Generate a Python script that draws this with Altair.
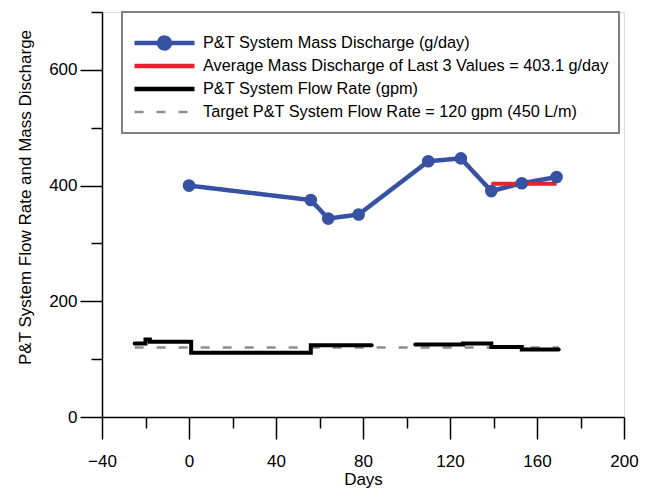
import altair as alt
import pandas as pd

# ---- data ----
mass_days = [0, 56, 64, 78, 110, 125, 139, 153, 169]
mass_vals = [400, 375, 343, 350, 442, 447, 390.5, 404, 414.8]

avg_days = [139, 169]
avg_vals = [403.1, 403.1]

flow1_days = [-25, -20, -18, 1, 56, 84]
flow1_vals = [127, 134, 130, 111, 124, 124]
flow2_days = [104, 126, 139, 153, 170]
flow2_vals = [125.5, 127, 121, 116.5, 116.5]

target_days = [-25, 170]
target_vals = [120, 120]

series = [
    "P&T System Mass Discharge (g/day)",
    "Average Mass Discharge of Last 3 Values = 403.1 g/day",
    "P&T System Flow Rate (gpm)",
    "Target P&T System Flow Rate = 120 gpm (450 L/m)",
]
colors = ["#3752a3", "#e8222c", "#000000", "#8c8c8c"]
dashes = [[1, 0], [1, 0], [1, 0], [9, 13]]

x_ticks = list(range(-40, 201, 20))
y_ticks = list(range(0, 701, 100))

FONT = "Liberation Sans"

mass_df = pd.DataFrame({"day": mass_days, "value": mass_vals, "series": series[0]})
avg_df = pd.DataFrame({"day": avg_days, "value": avg_vals, "series": series[1]})
flow_df = pd.concat([
    pd.DataFrame({"day": flow1_days, "value": flow1_vals, "seg": "a"}),
    pd.DataFrame({"day": flow2_days, "value": flow2_vals, "seg": "b"}),
])
flow_df["series"] = series[2]
target_df = pd.DataFrame({"day": target_days, "value": target_vals, "series": series[3]})

legend = alt.Legend(
    title=" ", titleFontSize=6, titlePadding=4,
    orient="none", legendX=20, legendY=0,
    strokeColor="#808080", fillColor="white", padding=10,
    rowPadding=1.0, clipHeight=22,
    symbolType="stroke", symbolSize=3600, symbolStrokeWidth=4.5,
    symbolFillColor="transparent",
    labelFont=FONT, labelFontSize=16.3, labelLimit=600, labelOffset=6,
    labelColor="black",
)

color = alt.Color("series:N", scale=alt.Scale(domain=series, range=colors), legend=legend)
dash = alt.StrokeDash("series:N", scale=alt.Scale(domain=series, range=dashes), legend=legend)

xaxis = alt.Axis(
    values=x_ticks,
    labelExpr="datum.value % 40 == 0 ? datum.label : ''",
    tickSize={"condition": {"test": "datum.value % 40 == 0", "value": 22}, "value": 11},
    title="Days", grid=False,
    domainColor="black", domainWidth=1.5, tickColor="black", tickWidth=1.5,
    labelFont=FONT, labelFontSize=17, labelColor="black", labelPadding=14,
    labelFlush=False, labelOverlap=False,
    titleFont=FONT, titleFontSize=17, titleFontWeight="normal", titleColor="black",
    titlePadding=2,
)
yaxis = alt.Axis(
    values=y_ticks,
    labelExpr="datum.value % 200 == 0 ? datum.label : ''",
    tickSize={"condition": {"test": "datum.value % 200 == 0", "value": 22}, "value": 11},
    title="P&T System Flow Rate and Mass Discharge", grid=False,
    domainColor="black", domainWidth=1.5, tickColor="black", tickWidth=1.5,
    labelFont=FONT, labelFontSize=17, labelColor="black", labelPadding=3,
    labelFlush=False, labelOverlap=False,
    titleFont=FONT, titleFontSize=17, titleFontWeight="normal", titleColor="black",
    titlePadding=14, titleY=185,
)

x = alt.X("day:Q", scale=alt.Scale(domain=[-40, 200], nice=False, zero=False), axis=xaxis)
y = alt.Y("value:Q", scale=alt.Scale(domain=[0, 700], nice=False), axis=yaxis)

target = alt.Chart(target_df).mark_line(strokeWidth=2.5).encode(x=x, y=y, color=color, strokeDash=dash)
flow = alt.Chart(flow_df).mark_line(strokeWidth=4, interpolate="step-after", strokeCap="round").encode(
    x=x, y=y, color=color, strokeDash=dash, detail="seg:N")
mass_line = alt.Chart(mass_df).mark_line(strokeWidth=4.5).encode(x=x, y=y, color=color, strokeDash=dash)
avg = alt.Chart(avg_df).mark_line(strokeWidth=4).encode(x=x, y=y, color=color, strokeDash=dash)
mass_pts = alt.Chart(mass_df).mark_circle(size=160, opacity=1, color=colors[0]).encode(x=x, y=y)

chart = alt.layer(target, flow, mass_line, avg, mass_pts).properties(
    width=522, height=405,
    autosize=alt.AutoSizeParams(type="none"),
    padding={"left": 94, "top": 4, "right": 20, "bottom": 78},
).configure_view(stroke=None).configure(font=FONT)

# custom legend symbol encoding (Vega style): a line with a dot for the mass discharge entry
dot_path = "M-1,0L1,0M-0.18,0A0.18,0.18,0,1,1,0.18,0A0.18,0.18,0,1,1,-0.18,0Z"
first_test = "datum.value == '%s'" % series[0]
legend_encode = {
    "symbols": {
        "update": {
            "shape": [{"test": first_test, "value": dot_path}, {"value": "stroke"}],
            "fill": [{"test": first_test, "value": colors[0]}, {"value": "transparent"}],
            "strokeWidth": {"signal": "(datum.value == '%s' ? 2.5 : 4.5)" % series[3]},
        }
    },
    "legend": {"update": {"strokeWidth": {"value": 2}}},
}

_orig_to_dict = chart.to_dict


def _inject(d):
    if isinstance(d, dict):
        for key, val in d.items():
            if key == "legend" and isinstance(val, dict) and val.get("orient") == "none":
                val["encode"] = legend_encode
            else:
                _inject(val)
    elif isinstance(d, list):
        for item in d:
            _inject(item)


def _to_dict(*args, **kwargs):
    d = _orig_to_dict(*args, **kwargs)
    _inject(d)
    return d


object.__setattr__(chart, "to_dict", _to_dict)

chart.save("out.html", embed_options={"renderer": "svg", "actions": False})
